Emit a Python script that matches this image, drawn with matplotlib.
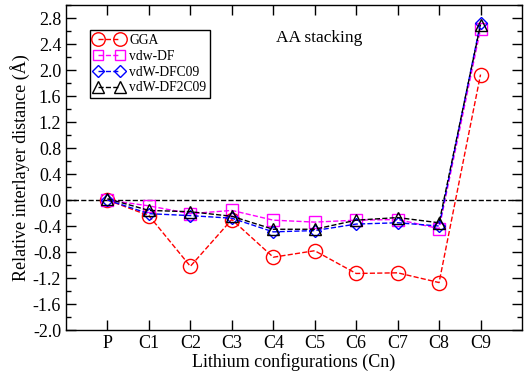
import matplotlib
matplotlib.use("Agg")
import matplotlib.pyplot as plt
from matplotlib.ticker import MultipleLocator

configs = ["P", "C1", "C2", "C3", "C4", "C5", "C6", "C7", "C8", "C9"]
gga = [0.0, -0.24, -1.02, -0.30, -0.88, -0.78, -1.13, -1.12, -1.27, 1.93]
vdw_df = [0.0, -0.09, -0.21, -0.16, -0.31, -0.34, -0.31, -0.30, -0.44, 2.63]
vdw_dfc09 = [0.0, -0.21, -0.24, -0.28, -0.49, -0.47, -0.37, -0.35, -0.40, 2.73]
vdw_df2c09 = [0.02, -0.16, -0.18, -0.25, -0.45, -0.45, -0.31, -0.27, -0.35, 2.70]

plt.rcParams["font.family"] = ["Liberation Serif", "DejaVu Serif"]

fig = plt.figure(figsize=(5.28, 3.74), dpi=100)
ax = fig.add_axes([0.125, 0.1176, 0.8636, 0.869])

x = list(range(len(configs)))
ax.axhline(0.0, color="black", ls="--", lw=1.0, zorder=1)

# series
ax.plot(x, gga, ls="--", lw=1.0, color="red", marker="o", ms=10.2,
        mfc="none", mec="red", mew=1.0, label="GGA")
ax.plot(x, vdw_df, ls="--", lw=1.0, color="magenta", marker="s", ms=8.2,
        mfc="none", mec="magenta", mew=1.0, label="vdw-DF")
ax.plot(x, vdw_dfc09, ls="--", lw=1.0, color="blue", marker="D", ms=6.5,
        mfc="none", mec="blue", mew=1.0, label="vdW-DFC09")
ax.plot(x, vdw_df2c09, ls="--", lw=1.0, color="black", marker="^", ms=8.5,
        mfc="none", mec="black", mew=1.0, label="vdW-DF2C09")

ax.set_xlim(-1, 10)
ax.set_ylim(-2.0, 3.0)
ax.set_xticks(x)
ax.set_xticklabels(configs)
ax.yaxis.set_minor_locator(MultipleLocator(0.2))
ax.set_yticks([-2.0 + 0.4 * i for i in range(13)])
ax.set_yticklabels(["%.1f" % (-2.0 + 0.4 * i) for i in range(13)])

ax.tick_params(which="both", direction="in", top=True, right=True,
               labelsize=13, width=1.0)
ax.tick_params(which="major", length=7)
ax.tick_params(which="minor", length=3.5)
for s in ax.spines.values():
    s.set_linewidth(1.0)

ax.set_xlabel("Lithium configurations (Cn)", fontsize=13, labelpad=1)
ax.set_ylabel("Relative interlayer distance (Å)", fontsize=13, labelpad=2)

ax.text(4.07, 2.49, "AA stacking", fontsize=12.5, va="center", ha="left")

leg = ax.legend(loc="upper left", bbox_to_anchor=(0.052, 0.923), fontsize=9.8,
                frameon=True, fancybox=False, numpoints=2, handlelength=2.2,
                handletextpad=0.4, labelspacing=0.2, borderpad=0.3,
                borderaxespad=0.0, markerscale=0.95)
leg.get_frame().set_edgecolor("black")
leg.get_frame().set_linewidth(1.0)
leg.get_frame().set_alpha(1.0)

fig.savefig("out.png", dpi=100)
